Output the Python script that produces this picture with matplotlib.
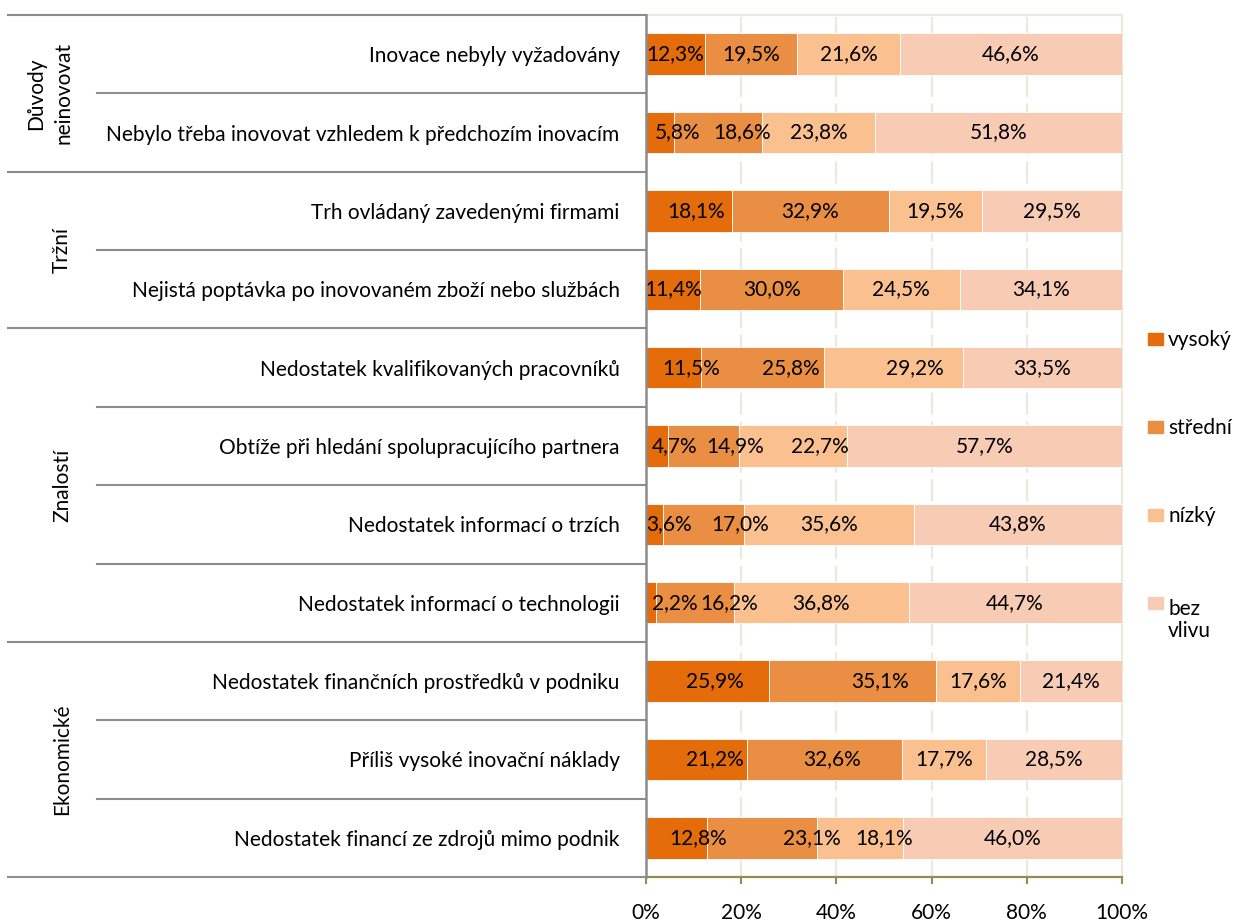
import matplotlib
matplotlib.use("Agg")
import matplotlib.pyplot as plt
from matplotlib.patches import Rectangle
import numpy as np

plt.rcParams['font.family'] = ['Lato', 'DejaVu Sans']

# Barriers to innovation, share of firms by impact level (%)
categories = [
    "Inovace nebyly vyžadovány",
    "Nebylo třeba inovovat vzhledem k předchozím inovacím",
    "Trh ovládaný zavedenými firmami",
    "Nejistá poptávka po inovovaném zboží nebo službách",
    "Nedostatek kvalifikovaných pracovníků",
    "Obtíže při hledání spolupracujícího partnera",
    "Nedostatek informací o trzích",
    "Nedostatek informací o technologii",
    "Nedostatek finančních prostředků v podniku",
    "Příliš vysoké inovační náklady",
    "Nedostatek financí ze zdrojů mimo podnik",
]
groups = ["Důvody\nneinovovat", "Tržní", "Znalostí", "Ekonomické"]
group_sizes = [2, 2, 4, 3]

series_names = ["vysoký", "střední", "nízký", "bez\nvlivu"]
vysoky = [12.3, 5.8, 18.1, 11.4, 11.5, 4.7, 3.6, 2.2, 25.9, 21.2, 12.8]
stredni = [19.5, 18.6, 32.9, 30.0, 25.8, 14.9, 17.0, 16.2, 35.1, 32.6, 23.1]
nizky = [21.6, 23.8, 19.5, 24.5, 29.2, 22.7, 35.6, 36.8, 17.6, 17.7, 18.1]
bez_vlivu = [46.6, 51.8, 29.5, 34.1, 33.5, 57.7, 43.8, 44.7, 21.4, 28.5, 46.0]

x_ticks = [0, 20, 40, 60, 80, 100]
x_tick_labels = ["0%", "20%", "40%", "60%", "80%", "100%"]

# horizontal nudges of value labels away from segment centres (percentage points)
label_shift = [
    [0, 0, 0, 0],
    [3.8, 5.0, 0, 0],
    [1.5, 0, 0, 0],
    [0, 0, 0, 0],
    [3.8, 6.1, 4.5, 0],
    [3.7, 6.5, 5.6, 0],
    [3.1, 7.7, 0, 0],
    [4.9, 7.2, 0, 0],
    [1.5, 5.7, 0, 0],
    [3.8, 1.6, 0, 0],
    [4.5, 10.6, 5.1, 0],
]

colors = ["#E46C0A", "#E98E43", "#FAC090", "#F8CBB4"]
line_gray = "#8C8C8C"
grid_col = "#ECE9DF"
axis_olive = "#948A54"
fs = 15

W, H = 1234, 923
fig = plt.figure(figsize=(W / 100, H / 100), dpi=100)
ax = fig.add_axes([646 / W, 1 - 877 / H, (1122 - 646) / W, (877 - 15) / H])

data = np.array([vysoky, stredni, nizky, bez_vlivu])
y = np.arange(len(categories))
left = np.zeros(len(categories))
for i, (vals, c) in enumerate(zip(data, colors)):
    ax.barh(y, vals, left=left, height=0.53, color=c, edgecolor="white",
            linewidth=0.6, zorder=3)
    for r in range(len(categories)):
        cx = left[r] + vals[r] / 2 + label_shift[r][i]
        txt = f"{vals[r]:.1f}".replace(".", ",") + "%"
        ax.text(cx, r, txt, ha="center", va="center", fontsize=fs,
                color="black", zorder=4)
    left = left + vals

ax.set_xlim(0, 100)
ax.set_ylim(len(categories) - 0.5, -0.5)

# grid
for gx in x_ticks[1:-1]:
    ax.axvline(gx, color=grid_col, linewidth=1.6, linestyle=(0, (10, 3)), zorder=1)

ax.set_xticks(x_ticks, x_tick_labels, fontsize=fs)
ax.tick_params(axis="x", direction="out", length=5, width=1.5, color=axis_olive, pad=14)
ax.set_yticks(y, categories, fontsize=fs)
ax.tick_params(axis="y", length=0, pad=19)

for side in ["top", "right"]:
    ax.spines[side].set_color(grid_col)
    ax.spines[side].set_linewidth(1.6)
ax.spines["bottom"].set_color(axis_olive)
ax.spines["bottom"].set_linewidth(1.6)
ax.spines["left"].set_color(line_gray)
ax.spines["left"].set_linewidth(1.8)
ax.spines["left"].set_zorder(5)

# category separators and group separators
tr = ax.get_yaxis_transform()
x_outer = (8 - 646) / 476
x_inner = (97 - 646) / 476
bounds = np.cumsum([0] + group_sizes) - 0.5
for b in bounds:
    ax.plot([x_outer, 0], [b, b], color=line_gray, linewidth=1.5,
            transform=tr, clip_on=False, zorder=5)
for start, size in zip(bounds[:-1], group_sizes):
    for k in range(1, size):
        ax.plot([x_inner, 0], [start + k, start + k], color=line_gray,
                linewidth=1.5, transform=tr, clip_on=False, zorder=5)

group_x = [(50 - 646) / 476, (62 - 646) / 476, (62 - 646) / 476, (62 - 646) / 476]
for g, start, size, gx in zip(groups, bounds[:-1], group_sizes, group_x):
    ax.text(gx, start + size / 2, g, rotation=90, ha="center", va="center",
            multialignment="center", fontsize=fs, transform=tr,
            linespacing=1.45)

# legend
leg_y = [339, 427, 515, 603]
line_step = 27
for name, c, ly in zip(series_names, colors, leg_y):
    fig.patches.append(Rectangle((1148 / W, 1 - (ly + 6) / H), 15 / W, 12 / H,
                                 transform=fig.transFigure, color=c))
    n_lines = name.count("\n")
    fig.text(1168 / W, 1 - (ly + 7 + line_step * n_lines) / H, name,
             ha="left", va="baseline", fontsize=fs, linespacing=1.12)

fig.savefig("out.png", dpi=100)
